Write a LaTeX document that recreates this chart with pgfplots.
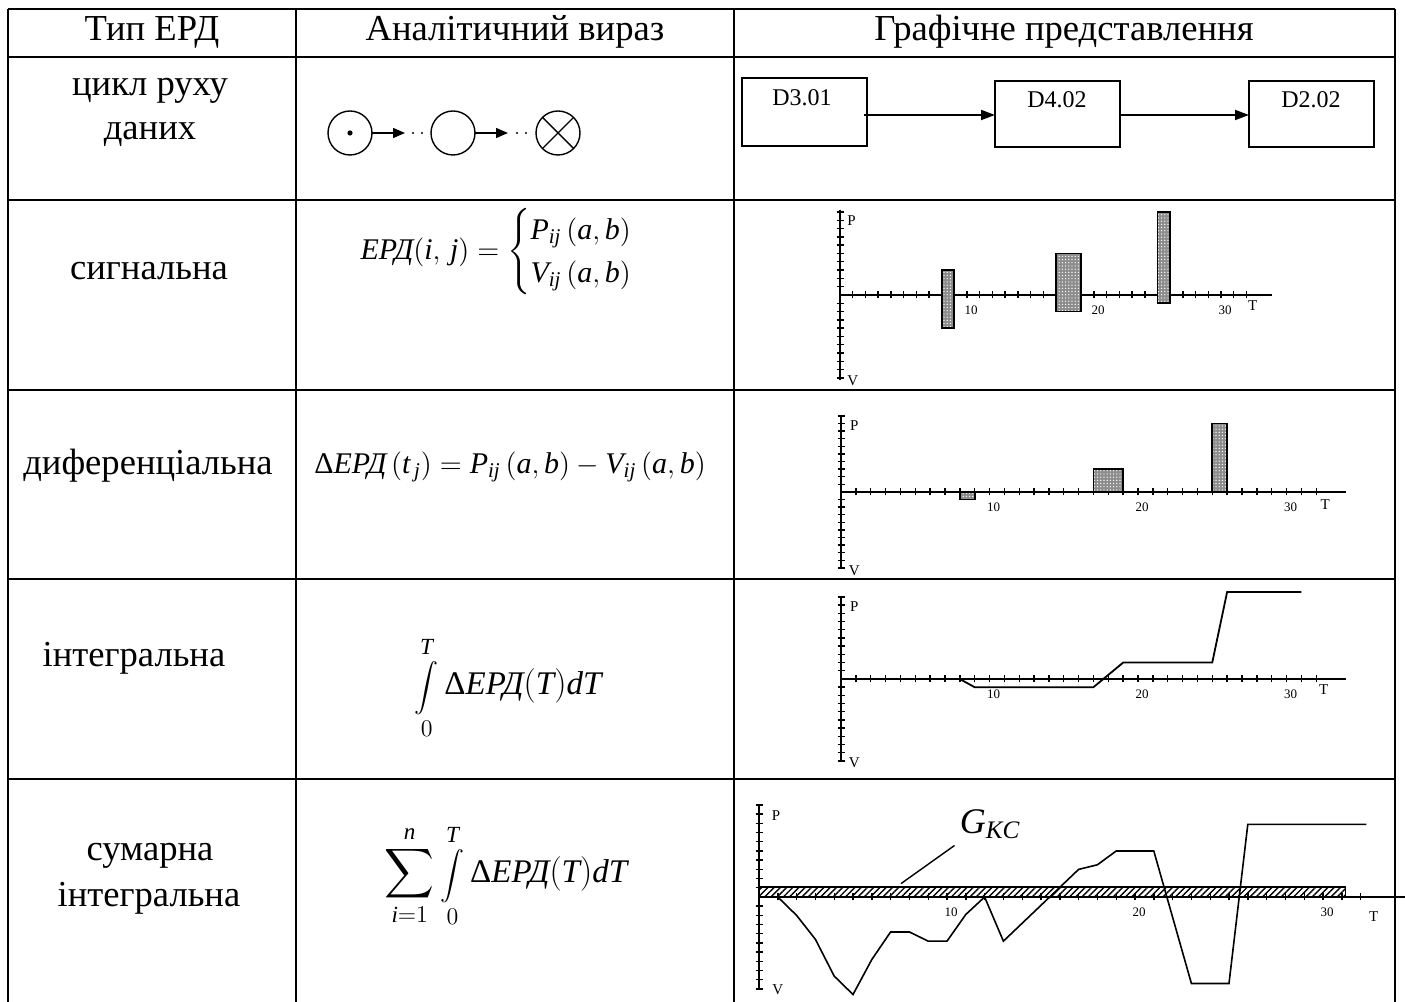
\documentclass[border=0pt]{standalone}
\usepackage{pgfplots}
\pgfplotsset{compat=1.18}
\usepackage{amsmath}
\usepackage{fontspec}
\setmainfont{Liberation Serif}
\usetikzlibrary{arrows.meta,patterns,patterns.meta}
\newcommand{\mi}[1]{\mathit{#1}}
\newcommand{\bigint}{\mathop{\hbox{\fontsize{11.5}{13}\selectfont$\displaystyle\int$}}\limits}
\pgfplotsset{mini/.style={
  axis lines=middle, axis line style={-, line width=0.7pt, black},
  anchor=origin, clip=false,
  xtick={1,...,32}, ytick={-10,...,-1,1,2,...,10},
  xticklabels={,,,,,,,,,10,,,,,,,,,,20,,,,,,,,,,30,,},
  yticklabels={,,,,,,,,,,,,,,,,,,,,},
  tick align=center, major tick length=3.5pt,
  tick style={line width=0.7pt, black},
  xticklabel style={font=\fontsize{6.5}{7}\selectfont, xshift=2pt},
  xmin=0, xmax=34, ymin=-10.3, ymax=10.3,
}}
\tikzset{mybar/.style={draw=black, line width=0.9pt, fill=black!45,
  postaction={pattern={Dots[distance=1.6pt, radius=0.35pt]}, pattern color=white}},
lab/.style={font=\fontsize{7.5}{8}\selectfont, inner sep=0pt}}
\begin{document}
\begin{tikzpicture}[x=0.5pt,y=0.5pt]
\useasboundingbox (0,0) rectangle (1405,1002);
% table grid
\begin{scope}[line width=1.2pt]
\draw (8,1002-9) -- (1395,1002-9);
\foreach \r in {57,200,390,579,779} \draw (8,1002-\r) -- (1395,1002-\r);
\foreach \c in {8,296,734,1395} \draw (\c,1002-9) -- (\c,0);
\end{scope}
\tikzset{txt/.style={font=\fontsize{18.3}{22}\selectfont, anchor=base, inner sep=0pt},
 frm/.style={font=\fontsize{15}{18}\selectfont, inner sep=0pt},
 frmb/.style={font=\fontsize{16.5}{19}\selectfont, inner sep=0pt}}
\node[txt] at (152,1002-41) {Тип ЕРД};
\node[txt] at (515,1002-41) {Аналітичний вираз};
\node[txt] at (1064,1002-41) {Графічне представлення};
\node[txt] at (150,1002-96) {цикл руху};
\node[txt] at (150,1002-140) {даних};
\node[txt] at (149,1002-280) {сигнальна};
\node[txt] at (148,1002-475) {диференціальна};
\node[txt] at (134,1002-667) {інтегральна};
\node[txt] at (150,1002-861) {сумарна};
\node[txt] at (149,1002-907) {інтегральна};
% formulas
\node[frm] at (512,1002-252) {$\textit{ЕРД}(\mi{i},\,\mi{j}) = \begin{cases}\mi{P}_{\mi{ij}}\,(\mi{a},\mi{b})\\ \mi{V}_{\mi{ij}}\,(\mi{a},\mi{b})\end{cases}$};
\node[frm] at (510,1002-467) {$\textup{Δ}\textit{ЕРД}\,(\mi{t}_{\,\mi{j}}) = \mi{P}_{\mi{ij}}\,(\mi{a},\mi{b}) - \mi{V}_{\mi{ij}}\,(\mi{a},\mi{b})$};
\node[frmb] at (508,1002-688) {$\bigint_{0}^{\mi{T}}\textup{Δ}\textit{ЕРД}(\mi{T})\mi{dT}$};
\node[frmb] at (506,1002-876) {$\displaystyle\sum_{\mi{i}=1}^{\mi{n}}\bigint_{0}^{\mi{T}}\textup{Δ}\textit{ЕРД}(\mi{T})\mi{dT}$};
% row 1 symbols
\begin{scope}[line width=0.7pt]
\draw (350,1002-133) circle (22);
\fill (350,1002-133) circle (2.6);
\draw[-{Triangle[length=6pt,width=5pt]}] (372,1002-133) -- (405,1002-133);
\fill (413,1002-133) circle (1.1) (422,1002-133) circle (1.1);
\draw (453,1002-133) circle (22);
\draw[-{Triangle[length=6pt,width=5pt]}] (475,1002-133) -- (508,1002-133);
\fill (517,1002-133) circle (1.1) (526,1002-133) circle (1.1);
\draw (558,1002-133) circle (22);
\draw (558-15.6,1002-133-15.6) -- (558+15.6,1002-133+15.6);
\draw (558-15.6,1002-133+15.6) -- (558+15.6,1002-133-15.6);
\end{scope}
% flow chart
\begin{scope}[line width=0.7pt]
\draw (742,1002-78) rectangle (867,1002-146);
\draw (995,1002-81) rectangle (1120,1002-147);
\draw (1249,1002-81) rectangle (1374,1002-147);
\node[font=\fontsize{12}{14}\selectfont] at (802,1002-98) {D3.01};
\node[font=\fontsize{12}{14}\selectfont] at (1057,1002-100) {D4.02};
\node[font=\fontsize{12}{14}\selectfont] at (1311,1002-100) {D2.02};
\draw[line width=0.9pt,-{Triangle[length=7pt,width=5pt]}] (864,1002-115) -- (995,1002-115);
\draw[line width=0.9pt,-{Triangle[length=7pt,width=5pt]}] (1120,1002-115) -- (1249,1002-115);
\end{scope}
% chart: signal
\begin{axis}[mini, at={(420pt,353.5pt)}, x=6.35pt, y=4.15pt]
\addplot[mybar] coordinates {(8,-4)(9,-4)(9,3)(8,3)} --cycle;
\addplot[mybar] coordinates {(17,-2)(19,-2)(19,5)(17,5)} --cycle;
\addplot[mybar] coordinates {(25,-1)(26,-1)(26,10)(25,10)} --cycle;
\node[lab] at (axis cs:0.9,9.0) {P};
\node[lab] at (axis cs:1.0,-10.3) {V};
\node[lab] at (axis cs:32.5,-1.3) {T};
\end{axis}
% chart: differential
\begin{axis}[mini, at={(420.5pt,255pt)}, x=7.425pt, y=3.8pt, ymin=-10.1, ymax=10.1]
\addplot[mybar] coordinates {(8,-1)(9,-1)(9,0)(8,0)} --cycle;
\addplot[mybar] coordinates {(17,0)(19,0)(19,3)(17,3)} --cycle;
\addplot[mybar] coordinates {(25,0)(26,0)(26,9)(25,9)} --cycle;
\node[lab] at (axis cs:0.9,8.8) {P};
\node[lab] at (axis cs:0.9,-10.4) {V};
\node[lab] at (axis cs:32.6,-1.6) {T};
\end{axis}
% chart: integral
\begin{axis}[mini, at={(420.5pt,161.5pt)}, x=7.425pt, y=4.1pt, ymin=-10, ymax=10]
\addplot[black, line width=0.9pt] coordinates {(8,0)(9,-1)(17,-1)(19,2)(25,2)(26,10.6)(31,10.6)};
\node[lab] at (axis cs:0.9,8.8) {P};
\node[lab] at (axis cs:0.9,-10.2) {V};
\node[lab] at (axis cs:32.5,-1.3) {T};
\end{axis}
% chart: summary integral
\begin{axis}[mini, at={(379.5pt,52.5pt)}, x=9.4pt, y=4.6pt, xmax=34.36, ymin=-10.1, ymax=10.1]
\addplot[draw=black, line width=0.8pt, pattern={Lines[angle=45,distance=2.2pt,line width=0.7pt]}] coordinates {(0,0)(31.2,0)(31.2,1.1)(0,1.1)} --cycle;
\addplot[black, line width=0.8pt] coordinates {(0,0)(1,0)(2,-2)(3,-4.6)(4,-8.6)(5,-10.6)(6,-6.8)(7,-3.8)(8,-3.8)(9,-4.8)(10,-4.8)(11,-1.9)(12,0)(13,-4.8)(17,3)(18,3.5)(19,5)(21,5)(23,-9.4)(25,-9.4)(26,7.9)(32.3,7.9)};
\draw[line width=0.7pt] (axis cs:7.55,1.45) -- (axis cs:10.4,5.6);
\node[font=\fontsize{18}{22}\selectfont] at (axis cs:12.3,7.9) {$\mi{G}_{\mi{KC}}$};
\node[lab] at (axis cs:0.9,8.9) {P};
\node[lab] at (axis cs:1.0,-10.1) {V};
\node[lab] at (axis cs:32.7,-2.1) {T};
\end{axis}
\end{tikzpicture}
\end{document}
